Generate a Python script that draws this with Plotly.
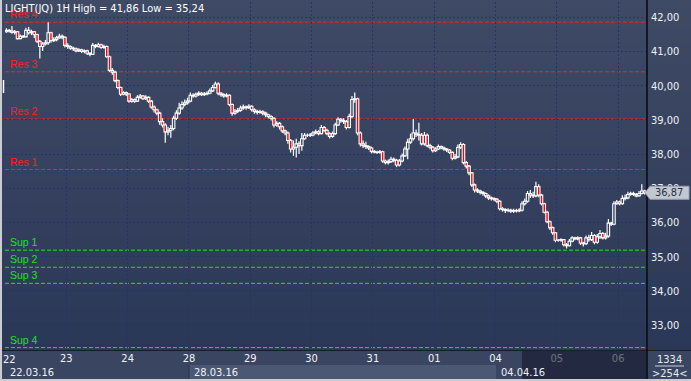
import plotly.graph_objects as go

# ---------------- data ----------------
title_text = "LIGHT(JQ) 1H High = 41,86 Low = 35,24"
day_labels = ["22", "23", "24", "28", "29", "30", "31", "01", "04", "05", "06"]
week_labels = ["22.03.16", "28.03.16", "04.04.16"]
week_first_day = [0, 3, 8]
bars_per_day = 22

opens = [
    41.58, 41.62, 41.60, 41.56, 41.58, 41.38, 41.45, 41.43, 41.62, 41.55, 41.58, 41.50, 41.30, 41.15, 41.22, 41.26, 41.55, 41.32, 41.35, 41.40, 41.45, 41.42,
    41.18, 41.15, 41.10, 41.08, 41.02, 41.05, 41.00, 41.02, 40.95, 40.92, 41.18, 41.15, 41.20, 41.12, 41.15, 40.85, 40.45, 40.40, 40.15, 39.95, 39.75, 39.80,
    39.76, 39.55, 39.60, 39.55, 39.66, 39.70, 39.62, 39.66, 39.55, 39.38, 39.30, 39.20, 38.95, 38.85, 38.65, 38.70, 38.75, 39.05, 39.20, 39.35, 39.45, 39.50,
    39.55, 39.72, 39.70, 39.75, 39.78, 39.74, 39.76, 39.78, 39.85, 39.95, 40.05, 39.78, 39.74, 39.70, 39.72, 39.45, 39.20, 39.25, 39.28, 39.35, 39.38, 39.36,
    39.40, 39.30, 39.25, 39.22, 39.24, 39.20, 39.15, 39.10, 39.05, 38.85, 38.90, 38.80, 38.68, 38.62, 38.40, 38.15, 38.20, 38.30, 38.25, 38.45, 38.55, 38.55,
    38.56, 38.62, 38.65, 38.60, 38.78, 38.70, 38.60, 38.52, 38.60, 38.85, 39.02, 38.98, 38.95, 38.78, 39.10, 39.60, 39.62, 38.62, 38.30, 38.25, 38.22, 38.18,
    38.08, 38.06, 38.05, 38.07, 37.80, 37.75, 37.78, 37.85, 37.82, 37.68, 37.80, 37.95, 38.15, 38.35, 38.45, 38.62, 38.58, 38.55, 38.30, 38.55, 38.25, 38.20,
    38.10, 38.15, 38.22, 38.18, 38.15, 38.12, 38.05, 37.88, 37.92, 38.20, 38.28, 37.75, 37.65, 37.45, 37.10, 36.95, 36.92, 36.88, 36.85, 36.78, 36.72, 36.70,
    36.68, 36.62, 36.40, 36.38, 36.35, 36.36, 36.33, 36.35, 36.34, 36.36, 36.55, 36.62, 36.85, 36.80, 36.78, 37.05, 36.80, 36.55, 36.30, 36.02, 35.85, 35.70,
    35.48, 35.48, 35.50, 35.35, 35.32, 35.45, 35.55, 35.52, 35.55, 35.40, 35.38, 35.55, 35.50, 35.62, 35.42, 35.58, 35.68, 35.55, 35.60, 35.98, 35.95, 36.55,
    36.60, 36.55, 36.70, 36.72, 36.82, 36.85, 36.82, 36.78, 36.85, 36.92,
]
highs = [
    41.68, 41.66, 41.75, 41.63, 41.60, 41.50, 41.48, 41.70, 41.72, 41.64, 41.60, 41.52, 41.34, 41.28, 41.34, 41.86, 41.58, 41.42, 41.46, 41.52, 41.50, 41.45,
    41.24, 41.18, 41.14, 41.12, 41.10, 41.08, 41.06, 41.05, 40.98, 41.25, 41.22, 41.26, 41.23, 41.20, 41.18, 40.88, 40.52, 40.44, 40.18, 39.98, 39.84, 39.83,
    39.78, 39.64, 39.63, 39.72, 39.76, 39.73, 39.72, 39.69, 39.58, 39.42, 39.33, 39.24, 39.05, 38.90, 38.80, 38.85, 39.12, 39.28, 39.50, 39.55, 39.60, 39.65,
    39.80, 39.78, 39.80, 39.84, 39.82, 39.82, 39.84, 39.92, 40.02, 40.12, 40.10, 39.82, 39.78, 39.78, 39.75, 39.48, 39.32, 39.35, 39.42, 39.45, 39.42, 39.46,
    39.43, 39.34, 39.30, 39.30, 39.28, 39.24, 39.18, 39.14, 39.08, 38.96, 38.94, 38.84, 38.72, 38.66, 38.44, 38.40, 38.45, 38.38, 38.62, 38.62, 38.60, 38.62,
    38.68, 38.72, 38.70, 38.85, 38.82, 38.74, 38.64, 38.66, 38.92, 39.08, 39.06, 39.05, 39.00, 39.18, 39.70, 39.80, 39.65, 38.66, 38.40, 38.36, 38.26, 38.22,
    38.12, 38.10, 38.12, 38.10, 37.84, 37.84, 37.92, 37.90, 37.86, 37.86, 38.02, 38.22, 38.45, 38.60, 39.03, 38.72, 38.92, 38.62, 38.65, 38.60, 38.30, 38.24,
    38.20, 38.28, 38.25, 38.22, 38.18, 38.15, 38.08, 38.00, 38.28, 38.35, 38.32, 37.80, 37.68, 37.48, 37.14, 37.00, 36.96, 36.92, 36.88, 36.82, 36.76, 36.74,
    36.72, 36.65, 36.45, 36.42, 36.42, 36.40, 36.40, 36.40, 36.42, 36.62, 36.70, 36.92, 36.95, 36.90, 37.19, 37.12, 36.84, 36.58, 36.34, 36.06, 35.88, 35.72,
    35.52, 35.54, 35.52, 35.40, 35.52, 35.60, 35.58, 35.60, 35.58, 35.44, 35.62, 35.64, 35.72, 35.66, 35.66, 35.78, 35.72, 35.70, 36.10, 36.02, 36.62, 36.66,
    36.64, 36.80, 36.82, 36.90, 36.90, 36.90, 36.86, 36.92, 37.12, 36.96,
]
lows = [
    41.55, 41.56, 41.52, 41.50, 41.35, 41.36, 41.40, 41.42, 41.50, 41.48, 41.40, 41.25, 40.80, 41.02, 41.18, 41.20, 41.26, 41.28, 41.30, 41.38, 41.36, 41.12,
    41.08, 41.05, 41.02, 40.98, 40.99, 40.96, 40.95, 40.90, 40.86, 40.90, 41.10, 41.12, 41.08, 41.08, 40.82, 40.40, 40.32, 40.10, 39.90, 39.70, 39.72, 39.70,
    39.50, 39.50, 39.50, 39.53, 39.62, 39.58, 39.58, 39.50, 39.33, 39.22, 39.14, 38.86, 38.78, 38.33, 38.55, 38.48, 38.70, 39.00, 39.15, 39.30, 39.40, 39.45,
    39.52, 39.65, 39.66, 39.70, 39.70, 39.70, 39.72, 39.75, 39.82, 39.92, 39.72, 39.68, 39.65, 39.66, 39.40, 39.12, 39.15, 39.20, 39.24, 39.30, 39.30, 39.32,
    39.25, 39.18, 39.16, 39.18, 39.14, 39.08, 39.04, 38.98, 38.78, 38.80, 38.72, 38.62, 38.55, 38.30, 38.05, 37.95, 37.90, 38.00, 38.10, 38.42, 38.50, 38.50,
    38.52, 38.58, 38.55, 38.58, 38.64, 38.55, 38.46, 38.48, 38.56, 38.82, 38.92, 38.88, 38.72, 38.75, 39.05, 39.50, 38.55, 38.22, 38.18, 38.15, 38.12, 38.02,
    38.02, 38.00, 38.01, 37.75, 37.70, 37.70, 37.74, 37.76, 37.62, 37.64, 37.76, 37.92, 37.85, 38.30, 38.40, 38.50, 38.40, 38.25, 38.25, 38.20, 38.14, 38.05,
    38.06, 38.12, 38.14, 38.10, 38.06, 38.00, 37.82, 37.84, 37.88, 38.15, 37.70, 37.58, 37.38, 37.04, 36.88, 36.86, 36.82, 36.78, 36.72, 36.66, 36.64, 36.62,
    36.56, 36.35, 36.32, 36.28, 36.30, 36.28, 36.28, 36.29, 36.30, 36.32, 36.50, 36.58, 36.72, 36.72, 36.74, 36.74, 36.50, 36.26, 35.98, 35.78, 35.64, 35.42,
    35.44, 35.44, 35.30, 35.24, 35.30, 35.42, 35.48, 35.48, 35.34, 35.30, 35.34, 35.44, 35.46, 35.36, 35.38, 35.52, 35.50, 35.50, 35.55, 35.90, 35.92, 36.52,
    36.50, 36.52, 36.64, 36.68, 36.78, 36.78, 36.74, 36.76, 36.82, 36.82,
]
closes = [
    41.62, 41.60, 41.56, 41.58, 41.38, 41.45, 41.43, 41.62, 41.55, 41.58, 41.50, 41.30, 41.15, 41.22, 41.26, 41.55, 41.32, 41.35, 41.40, 41.45, 41.42, 41.18,
    41.15, 41.10, 41.08, 41.02, 41.05, 41.00, 41.02, 40.95, 40.92, 41.18, 41.15, 41.20, 41.12, 41.15, 40.85, 40.45, 40.40, 40.15, 39.95, 39.75, 39.80, 39.76,
    39.55, 39.60, 39.55, 39.66, 39.70, 39.62, 39.66, 39.55, 39.38, 39.30, 39.20, 38.95, 38.85, 38.65, 38.70, 38.75, 39.05, 39.20, 39.35, 39.45, 39.50, 39.55,
    39.72, 39.70, 39.75, 39.78, 39.74, 39.76, 39.78, 39.85, 39.95, 40.05, 39.78, 39.74, 39.70, 39.72, 39.45, 39.20, 39.25, 39.28, 39.35, 39.38, 39.36, 39.40,
    39.30, 39.25, 39.22, 39.24, 39.20, 39.15, 39.10, 39.05, 38.85, 38.90, 38.80, 38.68, 38.62, 38.40, 38.15, 38.20, 38.30, 38.25, 38.45, 38.55, 38.55, 38.56,
    38.62, 38.65, 38.60, 38.78, 38.70, 38.60, 38.52, 38.60, 38.85, 39.02, 38.98, 38.95, 38.78, 39.10, 39.60, 39.62, 38.62, 38.30, 38.25, 38.22, 38.18, 38.08,
    38.06, 38.05, 38.07, 37.80, 37.75, 37.78, 37.85, 37.82, 37.68, 37.80, 37.95, 38.15, 38.35, 38.45, 38.62, 38.58, 38.55, 38.30, 38.55, 38.25, 38.20, 38.10,
    38.15, 38.22, 38.18, 38.15, 38.12, 38.05, 37.88, 37.92, 38.20, 38.28, 37.75, 37.65, 37.45, 37.10, 36.95, 36.92, 36.88, 36.85, 36.78, 36.72, 36.70, 36.68,
    36.62, 36.40, 36.38, 36.35, 36.36, 36.33, 36.35, 36.34, 36.36, 36.55, 36.62, 36.85, 36.80, 36.78, 37.05, 36.80, 36.55, 36.30, 36.02, 35.85, 35.70, 35.48,
    35.48, 35.50, 35.35, 35.32, 35.45, 35.55, 35.52, 35.55, 35.40, 35.38, 35.55, 35.50, 35.62, 35.42, 35.58, 35.68, 35.55, 35.60, 35.98, 35.95, 36.55, 36.60,
    36.55, 36.70, 36.72, 36.82, 36.85, 36.82, 36.78, 36.85, 36.92, 36.87,
]

level_names = ["Res 4", "Res 3", "Res 2", "Res 1", "Sup 1", "Sup 2", "Sup 3", "Sup 4"]
level_values = [41.86, 40.41, 39.03, 37.55, 35.19, 34.69, 34.22, 32.34]

y_tick_values = [33, 34, 35, 36, 37, 38, 39, 40, 41, 42]
y_tick_labels = ["33,00", "34,00", "35,00", "36,00", "37,00", "38,00", "39,00", "40,00", "41,00", "42,00"]
y_range = [32.27, 42.45]

last_price = 36.87
last_price_label = "36,87"
bars_total_label = "1334"
bars_visible_label = ">254<"

# ---------------- geometry / style ----------------
W, H = 691, 381
ML, MR, MT, MB = 5, 45, 2, 31
PW, PH = W - ML - MR, H - MT - MB


def px_x(px):
    return (px - ML) / PW


def px_y(py):
    return (H - MB - py) / PH


FONT_NARROW = "Liberation Sans Narrow, DejaVu Sans Condensed, Arial Narrow, Liberation Sans, Arial, sans-serif"
FONT_LABEL = "Liberation Sans, Arial, sans-serif"
RED = "#ff1e1e"
GREEN = "#22e022"
BODY_W = 0.9

x_idx = list(range(len(closes)))
up = [i for i in x_idx if closes[i] >= opens[i]]
dn = [i for i in x_idx if closes[i] < opens[i]]

# wicks: upper (high -> body top) and lower (body bottom -> low)
wx, wy = [], []
for i in x_idx:
    top = max(opens[i], closes[i])
    bot = min(opens[i], closes[i])
    wx += [i, i, None, i, i, None]
    wy += [highs[i], top, None, bot, lows[i], None]

fig = go.Figure()
fig.add_trace(go.Scatter(x=wx, y=wy, mode="lines", line=dict(color="#ffffff", width=1.2),
                         hoverinfo="skip", showlegend=False, connectgaps=False))
fig.add_trace(go.Bar(x=up, base=[opens[i] for i in up], y=[closes[i] - opens[i] for i in up],
                     width=BODY_W, marker=dict(color="rgba(0,0,0,0)", line=dict(color="#ffffff", width=1.1)),
                     hoverinfo="skip", showlegend=False))
fig.add_trace(go.Bar(x=dn, base=[closes[i] for i in dn], y=[opens[i] - closes[i] for i in dn],
                     width=BODY_W, marker=dict(color="#ff0000", line=dict(color="#ffffff", width=1.1)),
                     hoverinfo="skip", showlegend=False))

shapes = []
# vertical background gradient (plot + right scale column)
top_c = (63, 75, 101)
bot_c = (43, 55, 87)
N = 50
ytop = px_y(0)
for k in range(N):
    t = (k + 0.5) / N
    c = tuple(int(round(bot_c[j] + (top_c[j] - bot_c[j]) * t)) for j in range(3))
    shapes.append(dict(type="rect", xref="paper", yref="paper",
                       x0=px_x(2), x1=px_x(W), y0=ytop * k / N, y1=ytop * (k + 1) / N + 0.002,
                       fillcolor="rgb(%d,%d,%d)" % c, line=dict(width=0), layer="below"))

# bottom time-scale rows
shapes.append(dict(type="rect", xref="paper", yref="paper", x0=px_x(2), x1=px_x(W),
                   y0=px_y(379), y1=px_y(350), fillcolor="#3a4561", line=dict(width=0), layer="below"))
shapes.append(dict(type="rect", xref="paper", yref="paper", x0=px_x(189), x1=px_x(496),
                   y0=px_y(379), y1=px_y(365), fillcolor="#4c5873", line=dict(width=0), layer="below"))
shapes.append(dict(type="line", xref="paper", yref="paper", x0=px_x(189), x1=px_x(189),
                   y0=px_y(379), y1=px_y(365), line=dict(color="#27314a", width=1), layer="below"))
# plot bottom separator and right column separator
shapes.append(dict(type="line", xref="paper", yref="paper", x0=px_x(2), x1=px_x(W),
                   y0=px_y(350.5), y1=px_y(350.5), line=dict(color="#161d2e", width=1)))
shapes.append(dict(type="line", xref="paper", yref="paper", x0=px_x(647), x1=px_x(647),
                   y0=px_y(379), y1=px_y(0), line=dict(color="#05080f", width=1.5)))
# right bottom info box separator
shapes.append(dict(type="line", xref="paper", yref="paper", x0=px_x(655), x1=px_x(684),
                   y0=px_y(366), y1=px_y(366), line=dict(color="#c8cdd8", width=1)))
# dark overlay of the scroll region in time scale
shapes.append(dict(type="rect", xref="paper", yref="paper", x0=px_x(522), x1=px_x(646),
                   y0=px_y(379), y1=px_y(351), fillcolor="rgba(18,24,42,0.6)", line=dict(width=0),
                   layer="above"))
# window frame (left and bottom)
shapes.append(dict(type="rect", xref="paper", yref="paper", x0=px_x(0), x1=px_x(2),
                   y0=px_y(H), y1=px_y(0), fillcolor="#c9ccd3", line=dict(width=0)))
shapes.append(dict(type="rect", xref="paper", yref="paper", x0=px_x(0), x1=px_x(W),
                   y0=px_y(H), y1=px_y(379), fillcolor="#c9ccd3", line=dict(width=0)))
shapes.append(dict(type="line", xref="paper", yref="paper", x0=px_x(3.5), x1=px_x(3.5),
                   y0=px_y(93), y1=px_y(80), line=dict(color="#ffffff", width=1.5)))

# support / resistance levels
annotations = []
for name, val in zip(level_names, level_values):
    col = RED if name.startswith("Res") else GREEN
    shapes.append(dict(type="line", xref="paper", yref="y", x0=0, x1=1, y0=val, y1=val,
                       line=dict(color=col, width=1, dash="4px,2px"), layer="between"))
    annotations.append(dict(xref="paper", yref="y", x=0, y=val, xanchor="left", yanchor="bottom",
                            xshift=3, yshift=0, showarrow=False, text=name,
                            font=dict(family=FONT_LABEL, size=10.5, color=col)))

# last price tag
shapes.append(dict(type="path", xref="paper", yref="y",
                   path="M %f,%f L %f,%f L %f,%f L %f,%f L %f,%f Z" % (
                       px_x(645), last_price,
                       px_x(650), last_price + 0.19,
                       px_x(689), last_price + 0.19,
                       px_x(689), last_price - 0.19,
                       px_x(650), last_price - 0.19),
                   fillcolor="#c3c7cf", line=dict(color="#9aa0ab", width=1), layer="above"))
annotations.append(dict(xref="paper", yref="y", x=px_x(669), y=last_price, xanchor="center",
                        yanchor="middle", showarrow=False, text=last_price_label,
                        font=dict(family=FONT_NARROW, size=11, color="#26304a")))

# first day label (sits on the left edge, where the axis would drop it)
annotations.append(dict(xref="x", yref="paper", x=-0.5, y=px_y(359), xanchor="left",
                        yanchor="middle", xshift=-4, showarrow=False, text=day_labels[0],
                        font=dict(family=FONT_NARROW, size=11, color="#f2f4f8")))

# week labels in the second time row
for lab, d in zip(week_labels, week_first_day):
    annotations.append(dict(xref="x", yref="paper", x=d * bars_per_day - 0.5, y=px_y(372),
                            xanchor="left", yanchor="middle", xshift=3, showarrow=False, text=lab,
                            font=dict(family=FONT_NARROW, size=11, color="#eef1f6")))

# info box
annotations.append(dict(xref="paper", yref="paper", x=px_x(669), y=px_y(359), xanchor="center",
                        yanchor="middle", showarrow=False, text=bars_total_label,
                        font=dict(family=FONT_NARROW, size=11, color="#e8ecf3")))
annotations.append(dict(xref="paper", yref="paper", x=px_x(669), y=px_y(373), xanchor="center",
                        yanchor="middle", showarrow=False, text=bars_visible_label,
                        font=dict(family=FONT_NARROW, size=11, color="#e8ecf3")))

# title
annotations.append(dict(xref="paper", yref="paper", x=px_x(3), y=px_y(9), xanchor="left",
                        yanchor="middle", showarrow=False, text=title_text,
                        font=dict(family=FONT_NARROW, size=11, color="#ffffff")))

grid_col = "#1e3764"
fig.update_layout(
    width=W, height=H, autosize=False,
    margin=dict(l=ML, r=MR, t=MT, b=MB, pad=0),
    paper_bgcolor="#323e5c", plot_bgcolor="rgba(0,0,0,0)",
    barmode="overlay",
    showlegend=False,
    shapes=shapes, annotations=annotations,
    xaxis=dict(
        range=[-0.5, len(closes) - 0.5],
        tickvals=[d * bars_per_day - 0.5 for d in range(len(day_labels))],
        ticktext=day_labels,
        showgrid=True, gridcolor=grid_col, griddash="2px,2px", gridwidth=1,
        zeroline=False, showline=False, ticks="",
        tickfont=dict(family=FONT_NARROW, size=11, color="#f2f4f8"),
        fixedrange=True,
    ),
    yaxis=dict(
        side="right", range=y_range,
        tickvals=y_tick_values, ticktext=y_tick_labels,
        showgrid=True, gridcolor=grid_col, griddash="2px,2px", gridwidth=1,
        zeroline=False, showline=False, ticks="",
        ticklabelstandoff=4,
        tickfont=dict(family=FONT_NARROW, size=11, color="#eef1f6"),
        fixedrange=True,
    ),
)

fig.write_html("out.html", config={"displayModeBar": False},
               post_script="document.body.style.margin='0';document.body.style.padding='0';"
                           "document.body.style.overflow='hidden';")
